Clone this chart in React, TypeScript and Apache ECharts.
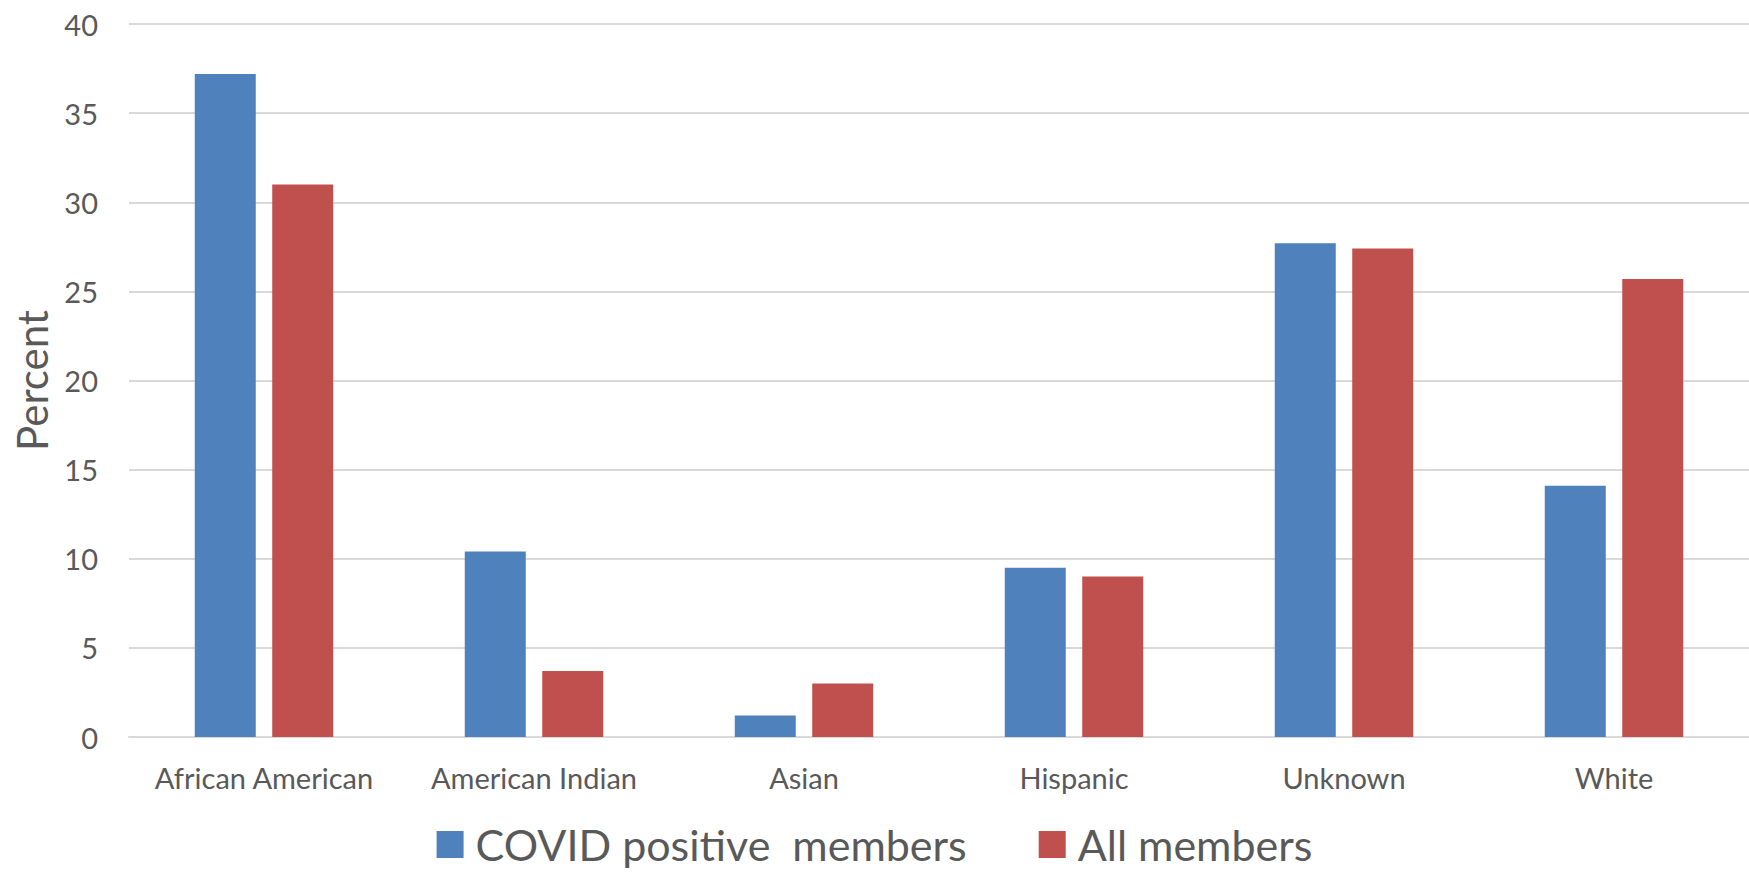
import React, { useEffect, useRef } from "react";
import * as echarts from "echarts";

const categories = ["African American", "American Indian", "Asian", "Hispanic", "Unknown", "White"];
const covidPositive = [37.2, 10.4, 1.2, 9.5, 27.7, 14.1];
const allMembers = [31.0, 3.7, 3.0, 9.0, 27.4, 25.7];
const seriesNames = ["COVID positive  members", "All members"];
const yTicks = { min: 0, max: 40, interval: 5 };

const FONT = "Lato";
const TEXT = "#595959";

export default function App() {
  const ref = useRef<HTMLDivElement>(null);
  useEffect(() => {
    document.body.style.margin = "0";
    const chart = echarts.init(ref.current!, undefined, { renderer: "svg" });
    chart.setOption({
      animation: false,
      backgroundColor: "#ffffff",
      textStyle: { fontFamily: FONT, color: TEXT },
      grid: {
        left: 129,
        right: 0,
        top: 24,
        bottom: 137,
        containLabel: false,
        outerBoundsMode: "none",
      },
      legend: {
        data: seriesNames,
        top: 823,
        left: "center",
        itemWidth: 27,
        itemHeight: 27,
        itemGap: 72,
        icon: "rect",
        padding: 0,
        textStyle: {
          fontFamily: FONT,
          fontSize: 43,
          lineHeight: 43,
          color: TEXT,
          padding: [0, 0, 0, 7],
        },
      },
      xAxis: {
        type: "category",
        data: categories,
        axisLine: { show: true, lineStyle: { color: "#d9d9d9", width: 2 } },
        axisTick: { show: false },
        axisLabel: { fontFamily: FONT, fontSize: 29, color: TEXT, margin: 26, interval: 0 },
      },
      yAxis: {
        type: "value",
        min: yTicks.min,
        max: yTicks.max,
        interval: yTicks.interval,
        name: "Percent",
        nameLocation: "middle",
        nameRotate: 90,
        nameGap: 76,
        nameTextStyle: { fontFamily: FONT, fontSize: 42, color: TEXT },
        axisLine: { show: false },
        axisTick: { show: false },
        axisLabel: { fontFamily: FONT, fontSize: 29, color: TEXT, margin: 31 },
        splitLine: { lineStyle: { color: "#d9d9d9", width: 2 } },
      },
      series: [
        {
          name: seriesNames[0],
          type: "bar",
          data: covidPositive,
          barWidth: 61,
          barGap: "27%",
          itemStyle: { color: "#4F81BD" },
        },
        {
          name: seriesNames[1],
          type: "bar",
          data: allMembers,
          barWidth: 61,
          barGap: "27%",
          itemStyle: { color: "#C0504D" },
        },
      ],
    });
    return () => chart.dispose();
  }, []);
  return <div ref={ref} style={{ width: 1749, height: 874 }} />;
}
